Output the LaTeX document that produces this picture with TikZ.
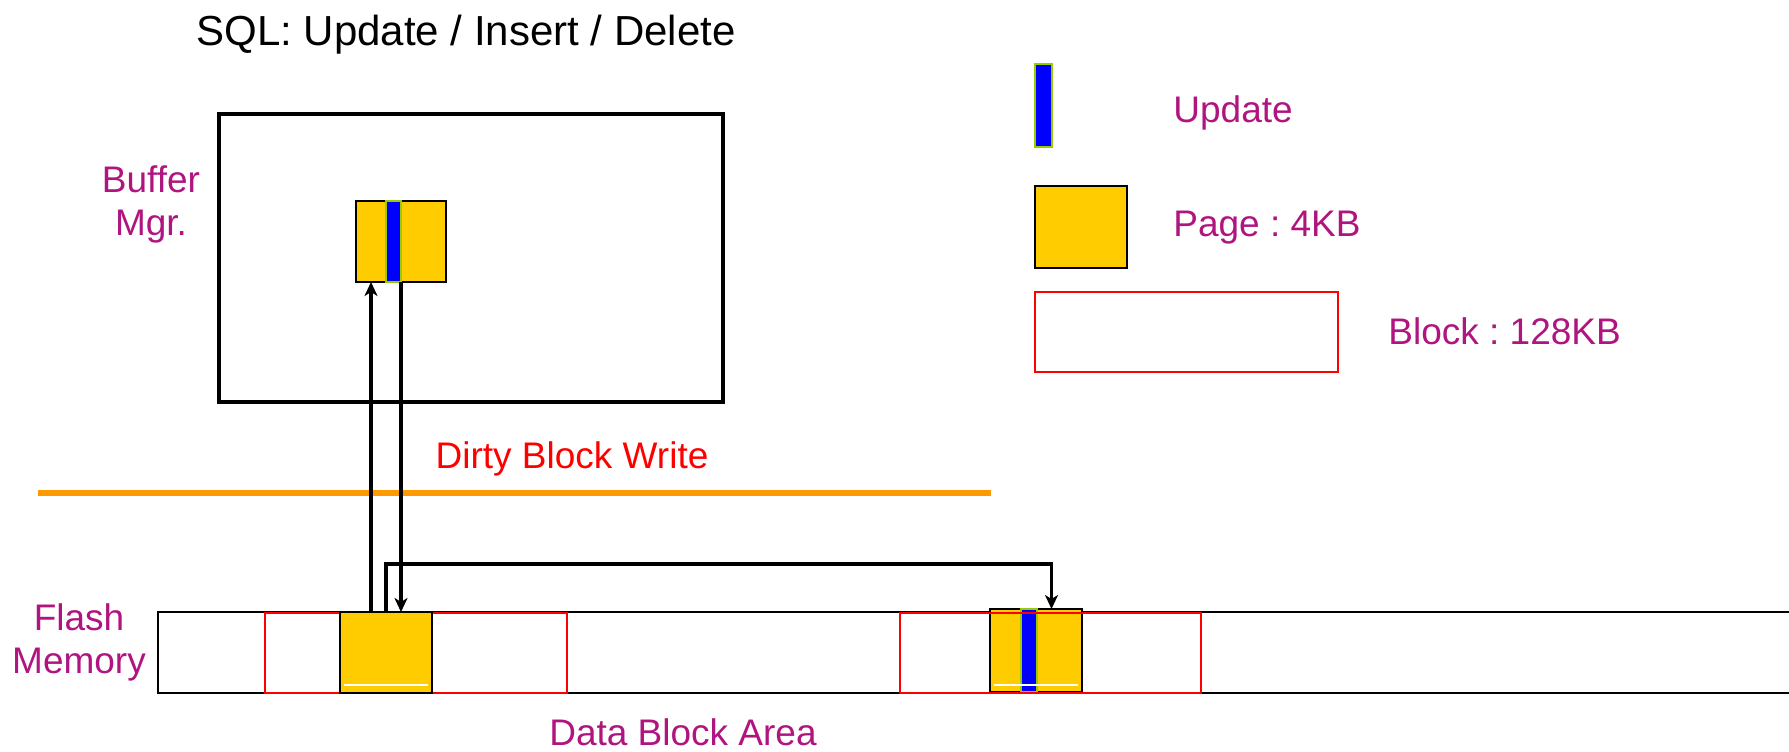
\documentclass[tikz,border=0pt]{standalone}
\usepackage{fontspec}
\setmainfont{Liberation Sans}
\usetikzlibrary{arrows.meta}
\definecolor{lbl}{HTML}{B0157F}
\definecolor{pagefill}{HTML}{FFCC00}
\definecolor{updfill}{HTML}{0000FF}
\definecolor{updline}{HTML}{99CC00}
\definecolor{divider}{HTML}{FF9900}
\tikzset{
  box/.style={draw, inner sep=0pt, outer sep=0pt, anchor=north west},
  pagebox/.style={box, fill=pagefill, line width=1.3pt},
  updbox/.style={box, fill=updfill, draw=updline, line width=1.1pt},
  blockbox/.style={box, draw=red, line width=1.4pt},
  lbltext/.style={text=lbl, font=\fontsize{18.5pt}{21.5pt}\selectfont, inner sep=0pt},
  arr/.style={line width=1.7pt, -{Stealth[length=7pt,width=6.5pt,inset=2pt]}},
  glint/.style={white, line width=0.6pt},
}
\frenchspacing
\begin{document}
\begin{tikzpicture}[x=0.5pt, y=-0.5pt]
\useasboundingbox (0,0) rectangle (1789,751);

% title
\node[anchor=base west, inner sep=0pt, font=\fontsize{21pt}{24pt}\selectfont] (title) at (196,45) {SQL: Update / Insert / Delete};

% buffer manager
\node[box, line width=1.6pt, minimum width=252pt, minimum height=144pt] (buf) at (219,114) {};
\node[lbltext, anchor=base, align=center] (bufl) at (151,235) {Buffer\\Mgr.};
\node[pagebox, minimum width=45pt, minimum height=40.5pt] (bpage) at (356,201) {};
\node[updbox, minimum width=7.5pt, minimum height=40.5pt] (bupd) at (386,201) {};

% divider
\coordinate (divl) at (38,493);
\coordinate (divr) at (991,493);
\draw[divider, line width=3pt] (divl) -- (divr);
\node[anchor=base, inner sep=0pt, text=red, font=\fontsize{18.5pt}{21.5pt}\selectfont] (dirty) at (572,468) {Dirty Block Write};

% flash memory strip
\node[box, line width=1.1pt, minimum width=820pt, minimum height=40.5pt] (flash) at (158,612) {};
\node[lbltext, anchor=base, align=center] (flashl) at (79,673) {Flash\\Memory};
\node[lbltext, anchor=base] (area) at (683,745) {Data Block Area};

% first block with its clean page
\node[blockbox, minimum width=151pt, minimum height=40pt] (blk1) at (265,613) {};
\node[pagebox, minimum width=46pt, minimum height=40.5pt] (page1) at (340,612) {};
\draw[glint] ([xshift=2pt,yshift=4pt]page1.south west) -- ([xshift=-2pt,yshift=4pt]page1.south east);

% second block with the updated page
\node[pagebox, minimum width=46pt, minimum height=41.5pt] (page2) at (990,609) {};
\node[updbox, minimum width=8pt, minimum height=41.5pt] (upd2) at (1021,609) {};
\draw[glint] ([xshift=2pt,yshift=3.5pt]page2.south west) -- ([xshift=-2pt,yshift=3.5pt]page2.south east);
\node[blockbox, minimum width=150.5pt, minimum height=40pt] (blk2) at (900,613) {};

% read, write back and relocate
\draw[arr] ([xshift=-7.5pt]page1.north) -- ([xshift=-15pt]bpage.south);
\draw[arr] (bpage.south) -- ([xshift=7.5pt]page1.north);
\draw[arr] (page1.north) -- ++(0,-48) -| ([xshift=7.75pt]page2.north);

% legend
\node[updbox, minimum width=8.5pt, minimum height=41.5pt] (lupd) at (1035,64) {};
\node[lbltext, anchor=base west] (lupdt) at (1173,122) {Update};
\node[pagebox, minimum width=46pt, minimum height=41pt] (lpage) at (1035,186) {};
\node[lbltext, anchor=base west] (lpaget) at (1173,236) {Page : 4KB};
\node[blockbox, minimum width=151.5pt, minimum height=40pt] (lblk) at (1035,292) {};
\node[lbltext, anchor=base west] (lblkt) at (1388,344) {Block : 128KB};
\end{tikzpicture}
\end{document}
